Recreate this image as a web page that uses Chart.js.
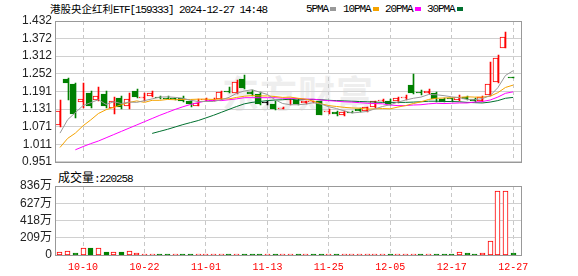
<!DOCTYPE html>
<html>
<head>
<meta charset="utf-8">
<script src="https://cdn.jsdelivr.net/npm/chart.js@4.4.1/dist/chart.umd.min.js"></script>
<style>
body { margin: 0; width: 578px; height: 276px; background: #fff; position: relative; overflow: hidden; font-family: "Liberation Sans", Arial, sans-serif; }
canvas { position: absolute; left: 0; }
#cPrice { top: 0; }
#cVol { top: 170px; }
.t { position: absolute; white-space: nowrap; font-size: 11px; line-height: 12px; color: #000; }
.cjk { font-family: "Noto Sans CJK SC", sans-serif; font-size: 10.5px; }
.mono { font-family: "Liberation Mono", monospace; letter-spacing: -1.1px; }
.sq { position: absolute; width: 6px; height: 4px; }
#wm { position: absolute; left: 222px; top: 73px; font-family: "Noto Sans CJK SC", sans-serif; font-weight: bold; font-size: 37px; line-height: 38px; color: #eeeeee; letter-spacing: 1px; }
</style>
</head>
<body>
<div id="wm">东方财富</div>
<div class="t" style="left:50px;top:3px"><span class="cjk">港股央企红利</span><span class="mono">ETF[159333] 2024-12-27 14:48</span></div>
<div id="legend"></div>
<div class="t" style="left:58px;top:171px"><span class="cjk" style="font-size:12px">成交量</span><span class="mono">:220258</span></div>
<canvas id="cPrice" width="578" height="172"></canvas>
<canvas id="cVol" width="578" height="106"></canvas>
<script>
// ---- axes ----
const xTickIdx = [3, 11, 19, 27, 35, 43, 51, 59];
const xTickLabels = ['10-10', '10-22', '11-01', '11-13', '11-25', '12-05', '12-17', '12-27'];
const priceTicks = ['0.951', '1.011', '1.071', '1.131', '1.191', '1.252', '1.312', '1.372', '1.432'];
const volTicks = [0, 209, 418, 627, 836];
const volTickLabels = ['0', '209万', '418万', '627万', '836万'];

// ---- K线 (60 jours, 09-30 -> 12-27) ----
const open = [1.077, 1.235, 1.218, 1.154, 1.187, 1.162, 1.181, 1.135, 1.170, 1.140,
    1.194, 1.170, 1.177, 1.171, 1.170, 1.166, 1.170, 1.159, 1.140, 1.163,
    1.160, 1.165, 1.194, 1.185, 1.235, 1.190, 1.182, 1.151, 1.149, 1.133,
    1.161, 1.162, 1.153, 1.155, 1.157, 1.120, 1.121, 1.112, 1.121, 1.130,
    1.124, 1.137, 1.160, 1.159, 1.157, 1.170, 1.215, 1.190, 1.187, 1.187,
    1.165, 1.168, 1.162, 1.174, 1.165, 1.159, 1.179, 1.224, 1.341, 1.239];
const high = [1.162, 1.236, 1.219, 1.220, 1.194, 1.205, 1.193, 1.171, 1.177, 1.185,
    1.198, 1.185, 1.193, 1.177, 1.177, 1.168, 1.177, 1.161, 1.165, 1.170,
    1.168, 1.194, 1.205, 1.231, 1.246, 1.196, 1.188, 1.157, 1.157, 1.139,
    1.165, 1.165, 1.160, 1.160, 1.160, 1.132, 1.125, 1.125, 1.125, 1.135,
    1.138, 1.160, 1.166, 1.164, 1.173, 1.179, 1.252, 1.196, 1.199, 1.188,
    1.170, 1.168, 1.179, 1.177, 1.168, 1.177, 1.293, 1.315, 1.393, 1.239];
const low = [1.070, 1.162, 1.101, 1.135, 1.135, 1.157, 1.135, 1.115, 1.132, 1.132,
    1.168, 1.160, 1.173, 1.165, 1.164, 1.162, 1.155, 1.137, 1.140, 1.157,
    1.157, 1.162, 1.185, 1.182, 1.199, 1.176, 1.146, 1.146, 1.127, 1.130,
    1.146, 1.146, 1.149, 1.152, 1.110, 1.116, 1.109, 1.108, 1.118, 1.120,
    1.121, 1.134, 1.154, 1.146, 1.153, 1.162, 1.183, 1.179, 1.183, 1.154,
    1.154, 1.154, 1.160, 1.163, 1.154, 1.155, 1.177, 1.221, 1.341, 1.238];
const close = [1.124, 1.219, 1.115, 1.165, 1.140, 1.177, 1.140, 1.157, 1.137, 1.165,
    1.171, 1.172, 1.185, 1.169, 1.166, 1.165, 1.157, 1.148, 1.151, 1.165,
    1.162, 1.188, 1.188, 1.224, 1.202, 1.181, 1.149, 1.151, 1.132, 1.135,
    1.163, 1.149, 1.157, 1.157, 1.112, 1.122, 1.115, 1.121, 1.118, 1.125,
    1.137, 1.157, 1.163, 1.150, 1.168, 1.172, 1.185, 1.185, 1.194, 1.165,
    1.154, 1.166, 1.171, 1.166, 1.157, 1.174, 1.218, 1.304, 1.378, 1.238];

// volume en 万
const volume = [32, 48, 24, 81, 89, 81, 40, 36, 40, 48,
    24, 6, 6, 6, 6, 6, 6, 6, 6, 6,
    6, 6, 6, 6, 6, 6, 6, 6, 6, 6,
    6, 6, 6, 6, 6, 6, 6, 6, 6, 6,
    6, 6, 6, 6, 6, 6, 6, 6, 6, 6,
    6, 6, 33, 24, 6, 24, 170, 775, 775, 22];
const volUp = [1, 1, 0, 1, 0, 1, 0, 1, 0, 1,
    1, 1, 1, 0, 0, 1, 0, 0, 1, 1,
    1, 1, 0, 1, 0, 0, 0, 1, 0, 1,
    1, 0, 1, 0, 0, 1, 0, 1, 1, 1,
    1, 1, 1, 0, 1, 1, 1, 0, 1, 0,
    0, 0, 1, 0, 0, 1, 1, 1, 1, 0];

// moyennes mobiles
const ma5 = [1.049, 1.095, 1.119, 1.143, 1.153, 1.163, 1.147, 1.156, 1.150, 1.155,
    1.154, 1.160, 1.166, 1.172, 1.173, 1.171, 1.168, 1.161, 1.157, 1.157,
    1.157, 1.163, 1.171, 1.185, 1.193, 1.197, 1.189, 1.181, 1.163, 1.150,
    1.146, 1.146, 1.148, 1.153, 1.148, 1.139, 1.133, 1.125, 1.118, 1.120,
    1.123, 1.132, 1.140, 1.146, 1.155, 1.162, 1.168, 1.172, 1.181, 1.180,
    1.177, 1.173, 1.170, 1.164, 1.163, 1.167, 1.177, 1.204, 1.246, 1.262];
const ma10 = [1.000, 1.031, 1.049, 1.074, 1.094, 1.116, 1.129, 1.137, 1.146, 1.154,
    1.159, 1.154, 1.161, 1.161, 1.164, 1.163, 1.164, 1.164, 1.165, 1.165,
    1.164, 1.166, 1.166, 1.171, 1.175, 1.177, 1.176, 1.176, 1.174, 1.171,
    1.172, 1.168, 1.165, 1.158, 1.149, 1.143, 1.140, 1.137, 1.135, 1.134,
    1.131, 1.132, 1.133, 1.132, 1.138, 1.143, 1.150, 1.156, 1.164, 1.168,
    1.169, 1.170, 1.171, 1.173, 1.172, 1.172, 1.175, 1.187, 1.205, 1.213];
const ma20 = [null, null, 0.992, 1.003, 1.013, 1.022, 1.033, 1.044, 1.055, 1.066,
    1.077, 1.088, 1.099, 1.110, 1.120, 1.130, 1.139, 1.147, 1.153, 1.159,
    1.161, 1.160, 1.163, 1.166, 1.170, 1.170, 1.170, 1.170, 1.170, 1.168,
    1.168, 1.167, 1.165, 1.165, 1.162, 1.160, 1.158, 1.156, 1.155, 1.153,
    1.151, 1.150, 1.149, 1.145, 1.143, 1.143, 1.145, 1.146, 1.149, 1.151,
    1.150, 1.151, 1.152, 1.152, 1.155, 1.157, 1.162, 1.172, 1.185, 1.190];
const ma30 = [null, null, null, null, null, null, null, null, null, null,
    null, null, 1.048, 1.055, 1.062, 1.070, 1.078, 1.085, 1.092, 1.101,
    1.110, 1.120, 1.130, 1.140, 1.149, 1.154, 1.157, 1.160, 1.162, 1.163,
    1.165, 1.162, 1.164, 1.164, 1.163, 1.161, 1.160, 1.159, 1.158, 1.157,
    1.156, 1.155, 1.154, 1.154, 1.154, 1.154, 1.155, 1.156, 1.158, 1.158,
    1.157, 1.157, 1.156, 1.154, 1.153, 1.152, 1.155, 1.160, 1.168, 1.171];
const maNames = ['5PMA', '10PMA', '20PMA', '30PMA'];
const maColors = ['#999999', '#f5a300', '#ff00ff', '#00702f'];

const RED = '#ff0000';
const GREEN = '#008000';

// legende
const legendX = [306, 343, 385, 427];
let lg = '';
maNames.forEach(function (n, i) {
    lg += '<div class="t mono" style="left:' + legendX[i] + 'px;top:3px">' + n + '</div>';
    lg += '<div class="sq" style="left:' + (legendX[i] + n.length * 5.5 + 2) + 'px;top:7px;background:' + maColors[i] + '"></div>';
});
document.getElementById('legend').innerHTML = lg;

// cadre du graphique
const framePlugin = {
    id: 'frame',
    afterDraw: function (chart) {
        const a = chart.chartArea, ctx = chart.ctx;
        ctx.save();
        ctx.strokeStyle = '#999';
        ctx.lineWidth = 1;
        ctx.strokeRect(Math.round(a.left) + 0.5, Math.round(a.top) + 0.5, Math.round(a.right - a.left) - 1, Math.round(a.bottom - a.top));
        ctx.restore();
    }
};

// barres nettes : on cale les rectangles sur la grille de pixels
const snapPlugin = {
    id: 'snap',
    beforeDatasetsDraw: function (chart) {
        chart.data.datasets.forEach(function (ds, k) {
            const meta = chart.getDatasetMeta(k);
            if (meta.type !== 'bar') return;
            meta.data.forEach(function (el) {
                el.x = Math.floor(el.x) + 0.5;
                el.y = Math.round(el.y);
                el.base = Math.round(el.base);
            });
        });
    }
};

function xScale(showLabels) {
    return {
        type: 'linear', min: -0.65, max: 60.15, offset: false,
        grid: { offset: false, color: '#c8c8c8', drawTicks: false },
        border: { display: false, dash: [4, 3] },
        afterBuildTicks: function (s) { s.ticks = xTickIdx.map(v => ({ value: v })); },
        afterFit: function (s) { s.height = showLabels ? 21 : 0; },
        ticks: {
            display: showLabels, autoSkip: false, maxRotation: 0, padding: 6,
            color: RED, font: { family: 'Liberation Mono', size: 10 },
            callback: (v, i) => xTickLabels[i]
        }
    };
}

const candleColor = close.map((c, i) => c > open[i] ? RED : (c < open[i] ? GREEN : '#000'));
const bodyFill = close.map((c, i) => c > open[i] ? '#fff' : candleColor[i]);

const maSets = [ma5, ma10, ma20, ma30].map(function (arr, k) {
    return {
        type: 'line', order: 0, label: maNames[k],
        data: arr.map((v, i) => ({ x: i, y: v })).filter(p => p.y !== null),
        borderColor: maColors[k], borderWidth: 1, pointRadius: 0, tension: 0
    };
});

new Chart(document.getElementById('cPrice'), {
    type: 'bar',
    data: {
        datasets: maSets.concat([{
            label: 'body', order: 1,
            data: open.map((o, i) => ({ x: i, y: [o, close[i]] })),
            backgroundColor: bodyFill, borderColor: candleColor,
            borderWidth: 1, borderSkipped: false, barThickness: 5, minBarLength: 1
        }, {
            label: 'wick', order: 2,
            data: low.map((l, i) => ({ x: i, y: [l, high[i]] })),
            backgroundColor: candleColor, borderWidth: 0, barThickness: 1, minBarLength: 1
        }])
    },
    options: {
        responsive: false, animation: false,
        layout: { padding: { left: 0, right: 56, top: 21, bottom: 7 } },
        plugins: { legend: { display: false }, tooltip: { enabled: false } },
        scales: {
            x: xScale(false),
            y: {
                type: 'linear', min: 0.951, max: 1.432, beginAtZero: false,
                grid: { color: '#d0d0d0', drawTicks: false },
                border: { display: false },
                afterBuildTicks: function (s) { s.ticks = priceTicks.map(v => ({ value: parseFloat(v) })); },
                afterFit: function (s) { s.width = 55; },
                ticks: {
                    padding: 3, color: '#222', autoSkip: false,
                    font: { family: 'Liberation Sans', size: 12 },
                    callback: (v, i) => priceTicks[i]
                }
            }
        }
    },
    plugins: [snapPlugin, framePlugin]
});

new Chart(document.getElementById('cVol'), {
    type: 'bar',
    data: {
        datasets: [{
            label: 'vol',
            data: volume.map((v, i) => ({ x: i, y: v })),
            backgroundColor: volUp.map(u => u ? '#fff' : GREEN),
            borderColor: volUp.map(u => u ? RED : GREEN),
            borderWidth: 1, borderSkipped: false, barThickness: 5, minBarLength: 1
        }]
    },
    options: {
        responsive: false, animation: false,
        layout: { padding: { left: 0, right: 56, top: 16, bottom: 0 } },
        plugins: { legend: { display: false }, tooltip: { enabled: false } },
        scales: {
            x: xScale(true),
            y: {
                type: 'linear', min: 0, max: 836,
                grid: { color: '#d0d0d0', drawTicks: false },
                border: { display: false },
                afterBuildTicks: function (s) { s.ticks = volTicks.map(v => ({ value: v })); },
                afterFit: function (s) { s.width = 55; },
                ticks: {
                    padding: 3, color: '#222', autoSkip: false,
                    font: { family: "'Liberation Sans', 'Noto Sans CJK SC'", size: 12 },
                    callback: (v, i) => volTickLabels[i]
                }
            }
        }
    },
    plugins: [snapPlugin, framePlugin]
});
</script>
</body>
</html>
